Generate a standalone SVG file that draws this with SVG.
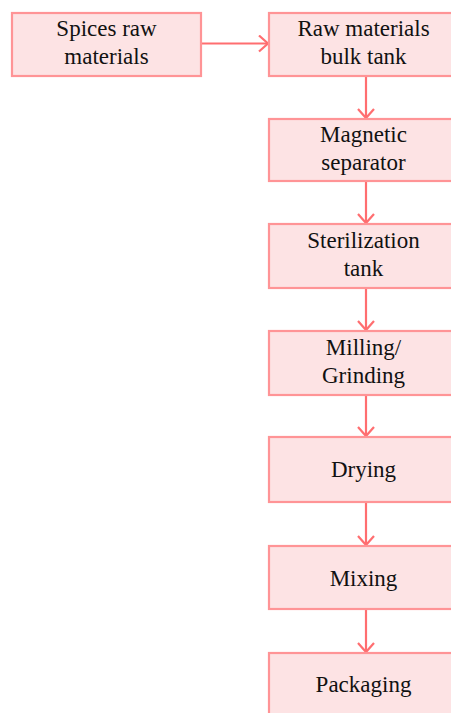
<svg xmlns="http://www.w3.org/2000/svg" width="451" height="713" viewBox="0 0 451 713">
<style>
.box{fill:#fde3e4;stroke:#ff9496;stroke-width:2.2}
.t{font-family:"Liberation Serif","Times New Roman",serif;font-size:23px;fill:#111;text-anchor:middle}
.c{stroke:#ff6e70;stroke-width:2.2;fill:none}
</style>
<defs>
<marker id="a" markerWidth="12" markerHeight="18" refX="10" refY="9" orient="auto" markerUnits="userSpaceOnUse">
<path d="M1,1 L10,9 L1,17" fill="none" stroke="#ff6e70" stroke-width="2.2"/>
</marker>
</defs>
<g id="connectors">
<line class="c" x1="201" y1="43.5" x2="268" y2="43.5" marker-end="url(#a)"/>
<line class="c" x1="366" y1="76" x2="366" y2="118" marker-end="url(#a)"/>
<line class="c" x1="366" y1="181" x2="366" y2="223" marker-end="url(#a)"/>
<line class="c" x1="366" y1="288" x2="366" y2="330" marker-end="url(#a)"/>
<line class="c" x1="366" y1="395" x2="366" y2="436" marker-end="url(#a)"/>
<line class="c" x1="366" y1="502" x2="366" y2="545" marker-end="url(#a)"/>
<line class="c" x1="366" y1="609" x2="366" y2="652" marker-end="url(#a)"/>
</g>
<g id="spices">
<rect class="box" x="12" y="13" width="189" height="63"/>
<text class="t" x="106.5" y="36">Spices raw</text>
<text class="t" x="106.5" y="64">materials</text>
</g>
<g id="bulk">
<rect class="box" x="269" y="13" width="190" height="63"/>
<text class="t" x="363.5" y="36">Raw materials</text>
<text class="t" x="363.5" y="64">bulk tank</text>
</g>
<g id="magnetic">
<rect class="box" x="269" y="119" width="190" height="62"/>
<text class="t" x="363.5" y="142">Magnetic</text>
<text class="t" x="363.5" y="170">separator</text>
</g>
<g id="sterilization">
<rect class="box" x="269" y="224" width="190" height="64"/>
<text class="t" x="363.5" y="248">Sterilization</text>
<text class="t" x="363.5" y="276">tank</text>
</g>
<g id="milling">
<rect class="box" x="269" y="331" width="190" height="64"/>
<text class="t" x="363.5" y="355">Milling/</text>
<text class="t" x="363.5" y="383">Grinding</text>
</g>
<g id="drying">
<rect class="box" x="269" y="437" width="190" height="65"/>
<text class="t" x="363.5" y="477">Drying</text>
</g>
<g id="mixing">
<rect class="box" x="269" y="546" width="190" height="63"/>
<text class="t" x="363.5" y="586">Mixing</text>
</g>
<g id="packaging">
<rect class="box" x="269" y="653" width="190" height="70"/>
<text class="t" x="363.5" y="692">Packaging</text>
</g>
</svg>
